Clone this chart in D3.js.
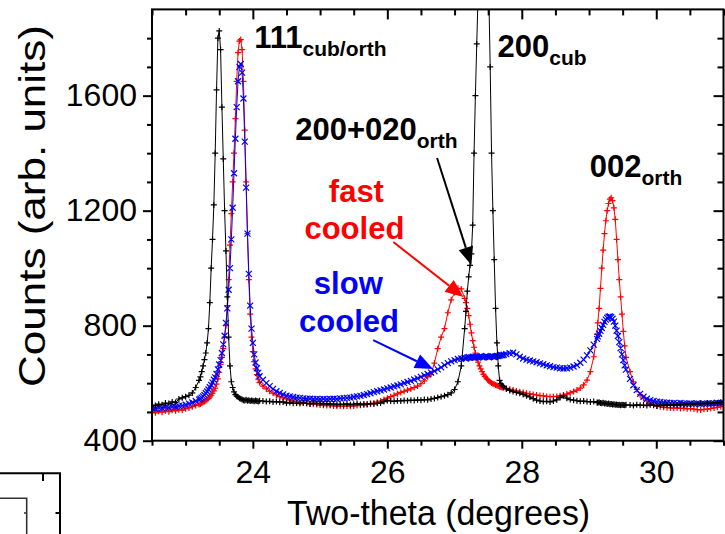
<!DOCTYPE html>
<html><head><meta charset="utf-8">
<script src="https://cdn.jsdelivr.net/npm/d3@7/dist/d3.min.js"></script>
<style>
body{margin:0;background:#fff;}
svg{display:block;}
text{font-family:"Liberation Sans",Arial,sans-serif;}
</style></head><body>
<svg id="chart" width="725" height="534"></svg>
<script>
// ---------------- data ----------------
const twoTheta = [
22.50,22.55,22.60,22.65,22.70,22.75,22.80,22.85,22.90,22.95,23.00,23.05,23.10,23.15,
23.20,23.22,23.24,23.26,23.28,23.30,23.32,23.34,23.36,23.38,23.40,23.42,23.44,23.46,23.48,23.50,23.52,23.54,23.56,23.58,23.60,23.62,23.64,23.66,23.68,23.70,23.72,23.74,23.76,23.78,23.80,23.82,23.84,23.86,23.88,23.90,23.92,23.94,23.96,23.98,24.00,24.02,24.04,24.06,24.08,24.10,
24.15,24.20,24.25,24.30,24.35,24.40,24.45,24.50,24.55,24.60,24.65,24.70,24.75,24.80,24.85,24.90,24.95,25.00,25.05,25.10,25.15,25.20,25.25,25.30,25.35,25.40,25.45,25.50,25.55,25.60,25.65,25.70,25.75,25.80,25.85,25.90,25.95,26.00,26.05,26.10,26.15,26.20,26.25,26.30,26.35,26.40,26.45,26.50,26.55,26.60,26.65,26.70,26.75,26.80,26.85,26.90,26.95,27.00,27.05,27.10,
27.15,27.17,27.19,27.21,27.23,27.25,27.27,27.29,27.31,27.33,27.35,27.37,27.39,27.41,27.43,27.45,27.47,27.49,27.51,27.53,27.55,27.57,27.59,27.61,27.63,27.65,27.67,27.69,27.71,27.73,
27.77,27.82,27.87,27.92,27.97,28.02,28.07,28.12,28.17,28.22,28.27,28.32,28.37,28.42,28.47,28.52,28.57,28.62,28.67,28.72,28.77,28.82,28.87,28.92,28.97,29.02,29.07,29.12,
29.13,29.15,29.17,29.19,29.21,29.23,29.25,29.27,29.29,29.31,29.33,29.35,29.37,29.39,29.41,29.43,29.45,29.47,29.49,29.51,29.53,29.55,
29.61,29.66,29.71,29.76,29.81,29.86,29.91,29.96,30.01,30.06,30.11,30.16,30.21,30.26,30.31,30.36,30.41,30.46,30.51,30.56,30.61,30.66,30.71,30.76,30.81,30.86,30.91,30.96,31.00
];
// cubic reference (black)
const cubic = [
524,522,527,525,531,529,535,533,545,549,553,558,566,585,
610,622,640,660,682,705,740,790,880,1000,1100,1220,1400,1620,1800,1825,1760,1560,1380,1200,1060,900,760,660,605,585,570,560,555,552,548,546,543,541,540,542,539,541,538,540,539,537,540,538,536,539,
538,536,537,535,536,534,535,531,533,530,531,529,532,530,528,531,529,530,527,529,526,528,525,527,526,528,525,527,529,526,528,527,529,528,530,531,536,540,538,537,539,538,540,539,541,540,542,541,543,542,545,547,550,553,556,560,566,578,605,660,
790,850,920,970,1010,1050,1150,1400,1600,1780,1950,2100,2300,2450,2500,2450,2300,2100,1950,1700,1400,1200,1030,860,740,660,610,598,592,588,
580,575,571,568,565,561,556,552,546,541,538,536,537,535,538,542,550,556,548,543,541,539,537,538,536,535,536,533,
532,534,531,530,532,529,530,528,529,527,528,526,527,525,526,524,525,523,525,524,523,525,
524,522,525,523,524,522,525,523,521,524,522,525,523,526,524,527,525,528,526,529,527,530,528,531,529,532,531,534,535
];
// fast cooled (red)
const fastCooled = [
500,497,502,499,504,501,506,504,508,506,511,514,518,522,
526,528,531,534,536,539,543,547,552,558,565,573,583,597,615,638,665,690,720,760,800,870,960,1080,1190,1300,1400,1520,1650,1750,1790,1795,1760,1650,1480,1300,1120,960,840,760,710,675,650,630,614,602,
590,580,572,565,559,553,549,545,541,538,536,534,531,530,528,527,526,524,523,522,522,521,520,521,520,521,520,521,522,523,524,526,528,531,534,538,543,548,553,558,563,568,572,576,580,585,590,598,608,622,630,670,720,760,790,845,890,915,930,928,
895,880,860,835,805,775,748,725,705,688,673,660,650,640,631,624,618,613,608,604,601,598,596,594,592,590,588,586,585,584,
582,579,576,573,570,568,565,563,561,559,557,556,554,553,553,554,556,559,562,566,571,576,583,594,611,640,692,770,
810,860,930,1000,1063,1120,1165,1200,1225,1240,1245,1235,1210,1170,1100,1030,960,900,840,780,730,690,
640,605,578,560,548,538,530,525,521,518,516,515,514,513,514,512,513,511,512,510,508,507,509,510,512,514,516,518,519
];
// slow cooled (blue)
const slowCooled = [
513,511,515,513,517,515,519,518,521,522,525,529,533,538,
543,546,550,554,559,565,571,578,586,594,603,612,620,632,648,665,680,705,735,765,810,860,925,1000,1100,1210,1330,1450,1560,1650,1700,1710,1680,1590,1440,1280,1120,980,870,790,740,700,672,652,636,624,
612,600,590,580,572,566,561,557,554,552,550,549,547,546,546,545,545,544,545,544,545,546,545,547,548,549,550,552,554,556,559,562,565,569,572,575,578,582,585,589,592,596,600,604,608,613,617,622,627,632,637,642,648,655,663,670,676,680,684,686,
687,686,689,691,688,690,692,689,691,693,690,692,694,691,689,692,694,692,690,692,694,693,691,693,695,694,696,698,697,699,
701,704,706,700,692,686,682,679,676,673,669,666,662,659,656,654,652,651,652,654,658,663,671,682,697,714,734,754,
763,772,782,792,803,813,821,827,831,832,830,824,814,800,783,764,743,722,700,680,662,647,
615,593,576,563,553,546,541,538,536,535,533,532,531,531,530,531,530,529,530,529,530,528,529,530,529,530,531,532,531
];

const xMajorTicks = [24, 26, 28, 30];
const xMinorTicks = [22.5, 23, 23.5, 24.5, 25, 25.5, 26.5, 27, 27.5, 28.5, 29, 29.5, 30.5, 31];
const yMajorTicks = [400, 800, 1200, 1600];
const yMinorTicks = [500, 600, 700, 900, 1000, 1100, 1300, 1400, 1500, 1700, 1800];
const xTitle = "Two-theta (degrees)";
const yTitle = "Counts (arb. units)";

// peak labels: [main, subscript, twoTheta, counts]
const peakLabels = [
  ["111", "cub/orth", 24.02, 1765],
  ["200+020", "orth", 24.63, 1446],
  ["200", "cub", 27.64, 1736],
  ["002", "orth", 29.01, 1318]
];
const sampleLabels = [
  ["fast", 25.54, 1230, "#ff0000"],
  ["cooled", 25.51, 1101, "#ff0000"],
  ["slow", 25.42, 910, "#0000ff"],
  ["cooled", 25.43, 779, "#0000ff"]
];
// arrows: [x1, y1, x2, y2, colour] in data units
const arrows = [
  [26.74, 1383, 27.25, 1011, "#000000"],
  [26.09, 1091, 27.13, 900, "#ff0000"],
  [25.79, 750, 26.68, 649, "#0000ff"]
];

// ---------------- drawing ----------------
const svg = d3.select("#chart");
const L = 152, R = 723.5, T = 9.4, B = 440.7;
const x = d3.scaleLinear().domain([22.5, 31]).range([L, R]);
const y = d3.scaleLinear().domain([400, 1900]).range([B, T]);

svg.append("rect").attr("width", 725).attr("height", 534).attr("fill", "#fff");

// stray frame of neighbouring panel (bottom-left)
const stray = svg.append("g").attr("fill", "none");
stray.append("path").attr("d", "M0,473.3H60V534M43,473.3V481M60,513H55.5").attr("stroke", "#000").attr("stroke-width", 2);
stray.append("path").attr("d", "M0,498.3H26.7V534M26.7,513H24").attr("stroke", "#333").attr("stroke-width", 1.6);

svg.append("clipPath").attr("id", "clip").append("rect")
  .attr("x", L).attr("y", T).attr("width", R - L).attr("height", B - T);

const plot = svg.append("g").attr("clip-path", "url(#clip)");

function drawSeries(vals, color, marker) {
  const pts = twoTheta.map((t, i) => [x(t), y(vals[i])]);
  plot.append("path").attr("d", d3.line()(pts)).attr("fill", "none")
    .attr("stroke", color).attr("stroke-width", 1);
  const s = 3;
  let d = "";
  pts.forEach(([px, py]) => {
    if (marker === "+") d += `M${px - s},${py}H${px + s}M${px},${py - s}V${py + s}`;
    else d += `M${px - s},${py - s}L${px + s},${py + s}M${px - s},${py + s}L${px + s},${py - s}`;
  });
  plot.append("path").attr("d", d).attr("fill", "none").attr("stroke", color).attr("stroke-width", 1.2);
}
drawSeries(fastCooled, "#ff0000", "+");
drawSeries(slowCooled, "#0000ff", "x");
drawSeries(cubic, "#000000", "+");

// axes
const fs = 32;
function styleAxis(g) {
  g.select(".domain").remove();
  g.selectAll(".tick line").attr("stroke", "#000").attr("stroke-width", 2);
  g.selectAll("text").attr("font-size", fs).attr("fill", "#000")
    .attr("font-family", '"Liberation Sans",Arial,sans-serif');
}
svg.append("g").attr("transform", `translate(0,${B})`)
  .call(d3.axisBottom(x).tickValues(xMajorTicks).tickSize(8).tickPadding(12).tickFormat(d3.format("d"))).call(styleAxis);
svg.append("g").attr("transform", `translate(0,${B})`)
  .call(d3.axisBottom(x).tickValues(xMinorTicks).tickSize(5).tickFormat("")).call(styleAxis);
svg.append("g").attr("transform", `translate(0,${T})`)
  .call(d3.axisTop(x).tickValues(xMajorTicks).tickSize(-10).tickFormat("")).call(styleAxis);
svg.append("g").attr("transform", `translate(0,${T})`)
  .call(d3.axisTop(x).tickValues(xMinorTicks).tickSize(-6).tickFormat("")).call(styleAxis);
svg.append("g").attr("transform", `translate(${L},0)`)
  .call(d3.axisLeft(y).tickValues(yMajorTicks).tickSize(9).tickPadding(6).tickFormat(d3.format("d"))).call(styleAxis);
svg.append("g").attr("transform", `translate(${L},0)`)
  .call(d3.axisLeft(y).tickValues(yMinorTicks).tickSize(5).tickFormat("")).call(styleAxis);
svg.append("g").attr("transform", `translate(${R},0)`)
  .call(d3.axisRight(y).tickValues(yMajorTicks).tickSize(-10).tickFormat("")).call(styleAxis);
svg.append("g").attr("transform", `translate(${R},0)`)
  .call(d3.axisRight(y).tickValues(yMinorTicks).tickSize(-6).tickFormat("")).call(styleAxis);

svg.append("rect").attr("x", L).attr("y", T).attr("width", R - L).attr("height", B - T)
  .attr("fill", "none").attr("stroke", "#000").attr("stroke-width", 2);

// titles
svg.append("text").attr("x", 438.6).attr("y", 525).attr("text-anchor", "middle")
  .attr("font-size", 35).attr("textLength", 303).attr("lengthAdjust", "spacingAndGlyphs").text(xTitle);
svg.append("text").attr("transform", "translate(45,206) rotate(-90)").attr("text-anchor", "middle")
  .attr("font-size", 37).attr("textLength", 362).attr("lengthAdjust", "spacingAndGlyphs").text(yTitle);

// annotations
peakLabels.forEach(([main, sub, t, c]) => {
  const tx = svg.append("text").attr("x", x(t)).attr("y", y(c))
    .attr("font-weight", "bold").attr("font-size", 31).attr("fill", "#000");
  tx.append("tspan").text(main);
  tx.append("tspan").attr("font-size", 21).attr("dy", 8).text(sub);
});
sampleLabels.forEach(([s, t, c, col]) => {
  svg.append("text").attr("x", x(t)).attr("y", y(c)).attr("text-anchor", "middle")
    .attr("font-weight", "bold").attr("font-size", 31).attr("fill", col).text(s);
});
arrows.forEach(([t1, c1, t2, c2, col]) => {
  const x1 = x(t1), y1 = y(c1), x2 = x(t2), y2 = y(c2);
  const dx = x2 - x1, dy = y2 - y1, len = Math.hypot(dx, dy);
  const ux = dx / len, uy = dy / len, hl = 18, hw = 7.5;
  const bx = x2 - ux * hl, by = y2 - uy * hl;
  svg.append("line").attr("x1", x1).attr("y1", y1).attr("x2", bx).attr("y2", by)
    .attr("stroke", col).attr("stroke-width", 2);
  svg.append("polygon").attr("points",
    `${x2},${y2} ${bx - uy * hw},${by + ux * hw} ${bx + uy * hw},${by - ux * hw}`).attr("fill", col);
});
</script>
</body></html>
